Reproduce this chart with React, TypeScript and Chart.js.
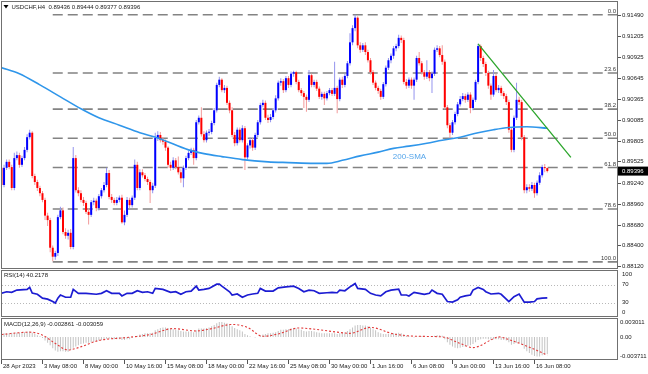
import React, { useEffect, useRef } from "react";
import { Chart, registerables } from "chart.js";

Chart.register(...registerables);

// ---------------- data ----------------
const firstOpen = 0.8944;
const closes = [
  0.8921, 0.8944, 0.8952, 0.8945, 0.8917, 0.8957, 0.8961, 0.8948, 0.8957, 0.8968,
  0.8985, 0.8991, 0.8933, 0.8925, 0.8917, 0.8910, 0.8901, 0.8880, 0.8874, 0.8837,
  0.8825, 0.8830, 0.8878, 0.8887, 0.8858, 0.8853, 0.8857, 0.8838, 0.8957, 0.8914,
  0.8910, 0.8901, 0.8897, 0.8885, 0.8881, 0.8898, 0.8900, 0.8890, 0.8906, 0.8914,
  0.8921, 0.8937, 0.8905, 0.8901, 0.8897, 0.8901, 0.8904, 0.8871, 0.8881, 0.8901,
  0.8894, 0.8904, 0.8948, 0.8917, 0.8938, 0.8934, 0.8929, 0.8925, 0.8914, 0.8920,
  0.8984, 0.8988, 0.8981, 0.8979, 0.8971, 0.8948, 0.8944, 0.8954, 0.8945, 0.8938,
  0.8930, 0.8944, 0.8957, 0.8964, 0.8968, 0.8957, 0.9005, 0.9011, 0.8989, 0.8981,
  0.8991, 0.8992, 0.9004, 0.9021, 0.9055, 0.9062, 0.9048, 0.9051, 0.9031, 0.9021,
  0.8988, 0.8977, 0.8995, 0.8981, 0.8997, 0.8958, 0.8974, 0.8981, 0.8971, 0.8988,
  0.9005, 0.9028, 0.9031, 0.9011, 0.9008, 0.9012, 0.9021, 0.9037, 0.9058, 0.9060,
  0.9048, 0.9064, 0.9055, 0.9070, 0.9072, 0.9059, 0.9048, 0.9044, 0.9039, 0.9035,
  0.9068, 0.9055, 0.9059, 0.9050, 0.9039, 0.9043, 0.9037, 0.9044, 0.9048, 0.9043,
  0.9051, 0.9036, 0.9062, 0.9055, 0.9067, 0.9084, 0.9112, 0.9131, 0.9145, 0.9108,
  0.9102, 0.9108, 0.9099, 0.9088, 0.9072, 0.9058, 0.9051, 0.9047, 0.9039, 0.9056,
  0.9078, 0.9088, 0.9094, 0.9104, 0.9107, 0.9118, 0.9115, 0.9059, 0.9054, 0.9062,
  0.9054, 0.9062, 0.9091, 0.9084, 0.9072, 0.9066, 0.9072, 0.9064, 0.9070, 0.9102,
  0.9104, 0.9095, 0.9086, 0.9025, 0.9001, 0.8991, 0.9005, 0.9016, 0.9029, 0.9036,
  0.9040, 0.9035, 0.9042, 0.9024, 0.9035, 0.9059, 0.9107, 0.9091, 0.9083, 0.9071,
  0.9054, 0.9042, 0.9067, 0.9048, 0.9051, 0.9044, 0.9040, 0.9032, 0.8995, 0.8968,
  0.9011, 0.9035, 0.9032, 0.8985, 0.8914, 0.8918, 0.8916, 0.8921, 0.8910, 0.8924,
  0.8934, 0.8945, 0.89436, 0.89396,
];
const highs = [
  0.8950, 0.8948, 0.8955, 0.8955, 0.8948, 0.8964, 0.8966, 0.8964, 0.8960, 0.8972,
  0.8989, 0.8995, 0.8993, 0.8936, 0.8928, 0.8920, 0.8913, 0.8904, 0.8884, 0.8877,
  0.8840, 0.8833, 0.8881, 0.8892, 0.8891, 0.8863, 0.8861, 0.8862, 0.8972, 0.8961,
  0.8918, 0.8914, 0.8905, 0.8900, 0.8890, 0.8901, 0.8904, 0.8903, 0.8909, 0.8917,
  0.8925, 0.8944, 0.8941, 0.8909, 0.8904, 0.8905, 0.8907, 0.8908, 0.8887, 0.8905,
  0.8904, 0.8907, 0.8955, 0.8952, 0.8942, 0.8942, 0.8937, 0.8932, 0.8928, 0.8924,
  0.8991, 0.8993, 0.8992, 0.8985, 0.8982, 0.8973, 0.8952, 0.8958, 0.8957, 0.8959,
  0.8942, 0.8947, 0.8960, 0.8967, 0.8971, 0.8971, 0.9008, 0.9014, 0.9025, 0.8993,
  0.8994, 0.8996, 0.9007, 0.9024, 0.9058, 0.9066, 0.9064, 0.9055, 0.9054, 0.9034,
  0.9025, 0.8992, 0.8998, 0.8998, 0.9001, 0.9000, 0.8977, 0.8985, 0.8984, 0.8991,
  0.9008, 0.9031, 0.9035, 0.9034, 0.9015, 0.9016, 0.9024, 0.9041, 0.9061, 0.9064,
  0.9063, 0.9067, 0.9067, 0.9073, 0.9074, 0.9074, 0.9062, 0.9051, 0.9047, 0.9042,
  0.9075, 0.9070, 0.9062, 0.9062, 0.9053, 0.9046, 0.9046, 0.9047, 0.9051, 0.9051,
  0.9086, 0.9054, 0.9065, 0.9066, 0.9070, 0.9087, 0.9124, 0.9135, 0.9149, 0.9147,
  0.9112, 0.9111, 0.9112, 0.9102, 0.9091, 0.9075, 0.9061, 0.9054, 0.9050, 0.9059,
  0.9081, 0.9091, 0.9097, 0.9107, 0.9110, 0.9122, 0.9121, 0.9118, 0.9063, 0.9065,
  0.9065, 0.9065, 0.9094, 0.9099, 0.9087, 0.9075, 0.9088, 0.9075, 0.9073, 0.9105,
  0.9108, 0.9107, 0.9108, 0.9089, 0.9028, 0.9004, 0.9008, 0.9019, 0.9032, 0.9040,
  0.9044, 0.9043, 0.9045, 0.9045, 0.9038, 0.9062, 0.9110, 0.9109, 0.9094, 0.9086,
  0.9074, 0.9057, 0.9075, 0.9070, 0.9055, 0.9054, 0.9047, 0.9043, 0.9035, 0.8998,
  0.9014, 0.9058, 0.9039, 0.9035, 0.8988, 0.8922, 0.8922, 0.8925, 0.8924, 0.8927,
  0.8938, 0.8948, 0.8949, 0.89444,
];
const lows = [
  0.8897, 0.8918, 0.8941, 0.8942, 0.8914, 0.8914, 0.8954, 0.8944, 0.8945, 0.8954,
  0.8965, 0.8982, 0.8930, 0.8921, 0.8913, 0.8906, 0.8898, 0.8874, 0.8866, 0.8831,
  0.8819, 0.8821, 0.8826, 0.8875, 0.8855, 0.8849, 0.8848, 0.8835, 0.8835, 0.8911,
  0.8906, 0.8898, 0.8893, 0.8882, 0.8868, 0.8878, 0.8894, 0.8886, 0.8887, 0.8903,
  0.8911, 0.8918, 0.8902, 0.8897, 0.8894, 0.8894, 0.8898, 0.8869, 0.8867, 0.8878,
  0.8890, 0.8891, 0.8901, 0.8914, 0.8914, 0.8931, 0.8926, 0.8921, 0.8897, 0.8910,
  0.8917, 0.8980, 0.8978, 0.8975, 0.8967, 0.8944, 0.8940, 0.8941, 0.8942, 0.8935,
  0.8924, 0.8918, 0.8941, 0.8954, 0.8961, 0.8948, 0.8954, 0.9002, 0.8986, 0.8978,
  0.8978, 0.8987, 0.8989, 0.9001, 0.9018, 0.9052, 0.9045, 0.9044, 0.9028, 0.9017,
  0.8985, 0.8973, 0.8974, 0.8978, 0.8978, 0.8941, 0.8955, 0.8970, 0.8967, 0.8968,
  0.8985, 0.9002, 0.9025, 0.9008, 0.9004, 0.9005, 0.9009, 0.9018, 0.9034, 0.9054,
  0.9044, 0.9045, 0.9051, 0.9052, 0.9066, 0.9056, 0.9045, 0.9040, 0.9024, 0.9019,
  0.9032, 0.9052, 0.9052, 0.9047, 0.9036, 0.9035, 0.9028, 0.9034, 0.9041, 0.9040,
  0.9040, 0.9017, 0.9033, 0.9051, 0.9052, 0.9064, 0.9081, 0.9108, 0.9127, 0.9104,
  0.9098, 0.9099, 0.9095, 0.9085, 0.9069, 0.9055, 0.9048, 0.9043, 0.9035, 0.9036,
  0.9053, 0.9075, 0.9084, 0.9090, 0.9100, 0.9104, 0.9111, 0.9056, 0.9050, 0.9051,
  0.9050, 0.9035, 0.9059, 0.9081, 0.9069, 0.9062, 0.9063, 0.9060, 0.9044, 0.9067,
  0.9099, 0.9092, 0.9082, 0.9022, 0.8997, 0.8984, 0.8988, 0.9002, 0.9013, 0.9026,
  0.9033, 0.9031, 0.9032, 0.9017, 0.9021, 0.9032, 0.9056, 0.9087, 0.9079, 0.9067,
  0.9050, 0.9035, 0.9039, 0.9045, 0.9044, 0.9040, 0.9036, 0.9028, 0.8991, 0.8965,
  0.8965, 0.9008, 0.9028, 0.8981, 0.8910, 0.8910, 0.8912, 0.8913, 0.8904, 0.8907,
  0.8921, 0.8931, 0.8938, 0.89377,
];

const smaIdx = [0, 7, 15, 23, 31, 38, 46, 54, 61, 73, 79, 86, 94, 104, 112, 122, 127, 133, 140, 147, 153, 159, 166, 172, 179, 186, 192, 198, 205, 213];
const smaVals = [0.9078, 0.9070, 0.9055, 0.9039, 0.9023, 0.9011, 0.9001, 0.8991, 0.8984, 0.8968, 0.8963, 0.8959, 0.8955, 0.8952, 0.8951, 0.8950, 0.8950, 0.8954, 0.8960, 0.8965, 0.8970, 0.8973, 0.8977, 0.8981, 0.8985, 0.8991, 0.8995, 0.8998, 0.8999, 0.8997];
const smaLabel = "200-SMA";
const smaLabelIdx = 152.7;
const smaLabelPrice = 0.8959;

const trendIdx = [186, 222.2];
const trendVals = [0.9110, 0.8958];

const fibHigh = 0.9149;
const fibLow = 0.8818;
const fibStartIdx = 20;
const fibRatios = [0, 23.6, 38.2, 50, 61.8, 78.6, 100];
const fibLabels = ["0.0", "23.6", "38.2", "50.0", "61.8", "78.6", "100.0"];

const priceTicks = [0.9149, 0.91205, 0.90925, 0.90645, 0.90365, 0.90085, 0.89805, 0.89525, 0.8924, 0.8896, 0.8868, 0.884, 0.8812];
const priceTickLabels = ["0.91490", "0.91205", "0.90925", "0.90645", "0.90365", "0.90085", "0.89805", "0.89525", "0.89240", "0.88960", "0.88680", "0.88400", "0.88120"];
const lastPrice = 0.89396;
const lastPriceLabel = "0.89396";
const mainTitle = "USDCHF,H4  0.89436 0.89444 0.89377 0.89396";

const rsiIdx = [0, 2, 4, 6, 10, 11, 12, 14, 16, 18, 20, 21, 22, 23, 25, 27, 28, 30, 33, 37, 39, 41, 43, 46, 47, 49, 51, 53, 55, 57, 59, 60, 63, 66, 68, 70, 72, 74, 76, 77, 79, 81, 84, 85, 86, 89, 90, 92, 94, 96, 98, 100, 101, 103, 106, 108, 111, 114, 116, 118, 120, 122, 124, 127, 129, 131, 132, 134, 136, 137, 138, 139, 142, 144, 146, 148, 150, 152, 155, 156, 158, 159, 161, 163, 165, 167, 168, 170, 172, 174, 176, 178, 179, 181, 183, 184, 186, 188, 189, 191, 194, 195, 198, 200, 202, 204, 206, 208, 209, 211, 213];
const rsiVals = [50.4, 53.9, 52.6, 57.6, 59.1, 63.5, 51.1, 48.3, 39.6, 37.4, 32.2, 28.7, 39.6, 46.7, 41.7, 41.7, 59.1, 50.4, 50.4, 48.3, 50.4, 56.1, 50.4, 50.4, 44.6, 50.4, 50.4, 56.1, 52.6, 53.9, 50.4, 61.3, 59.1, 52.6, 53.9, 48.3, 53.9, 55.4, 66.3, 57.6, 59.1, 61.3, 70.7, 70.7, 66.3, 53.9, 46.7, 48.9, 41.7, 46.7, 48.9, 50.4, 61.3, 55.4, 55.4, 62.6, 64.8, 66.3, 61.3, 53.9, 57.6, 56.1, 50.4, 51.7, 52.6, 51.7, 57.6, 56.1, 64.8, 68.5, 72.2, 61.3, 59.1, 50.4, 46.7, 44.6, 53.9, 57.6, 59.8, 46.7, 46.7, 44.6, 52.6, 50.4, 48.3, 50.4, 57.6, 50.4, 48.3, 32.2, 30.9, 35.9, 41.7, 44.6, 46.7, 57.6, 63.5, 59.1, 53.9, 48.9, 50.4, 48.3, 32.2, 43.0, 48.9, 30.9, 30.9, 32.2, 38.0, 39.6, 40.2178];
const rsiLevels = [70, 30];
const rsiTicks = [100, 70, 30, 0];
const rsiTickLabels = ["100", "70", "30", "0"];
const rsiTitle = "RSI(14) 40.2178";

const macdHist = [
  0.0005, 0.0006, 0.0006, 0.0006, 0.0007, 0.0007, 0.0007, 0.0007, 0.0008, 0.0008, 0.0009, 0.0009, 0.0007,
  0.0005, 0.0003, 0.0001, -0.0002,
  -0.0006, -0.0010, -0.0014, -0.0019, -0.0023, -0.0025, -0.0024, -0.0024, -0.0025,
  -0.0025, -0.0022, -0.0018, -0.0016, -0.0014, -0.0012, -0.0011,
  -0.0010, -0.0010, -0.0009, -0.0008, -0.0007, -0.0006, -0.0005, -0.0004, -0.0003, -0.0003, -0.0003, -0.0004, -0.0004, -0.0004, -0.0005, -0.0005, -0.0004, -0.0004,
  -0.0002, 0.0000, 0.0002, 0.0004, 0.0005, 0.0006, 0.0006, 0.0006, 0.0007, 0.0011,
  0.0013, 0.0015, 0.0016, 0.0016, 0.0015, 0.0014, 0.0013, 0.0012, 0.0011, 0.0010,
  0.0009, 0.0009, 0.0009, 0.0009, 0.0008, 0.0011, 0.0014,
  0.0014, 0.0014, 0.0015, 0.0016, 0.0018, 0.0020, 0.0023, 0.0025, 0.0025, 0.0024, 0.0023, 0.0021, 0.0018,
  0.0015, 0.0013, 0.0011, 0.0009, 0.0005, 0.0003, 0.0001, 0.0000, -0.0001,
  0.0000, 0.0002, 0.0004, 0.0005, 0.0006, 0.0006,
  0.0007, 0.0008, 0.0010, 0.0012, 0.0012, 0.0013, 0.0013, 0.0014, 0.0015, 0.0014, 0.0013, 0.0012, 0.0010,
  0.0009, 0.0010, 0.0010, 0.0009, 0.0008, 0.0007, 0.0006, 0.0006, 0.0006, 0.0006, 0.0006, 0.0006,
  0.0005, 0.0006, 0.0007, 0.0008, 0.0010, 0.0013, 0.0016,
  0.0019, 0.0020, 0.0020, 0.0019, 0.0019, 0.0018, 0.0016, 0.0013, 0.0011,
  0.0008, 0.0006, 0.0005, 0.0005, 0.0005, 0.0005, 0.0006, 0.0006, 0.0007,
  0.0006, 0.0004, 0.0002, 0.0001, 0.0000, -0.0001, 0.0001, 0.0001, 0.0001, 0.0001, 0.0000, 0.0000, 0.0001, 0.0002, 0.0003, 0.0003, 0.0002,
  -0.0004, -0.0009, -0.0013, -0.0016, -0.0018, -0.0019, -0.0018, -0.0017, -0.0016, -0.0015,
  -0.0014, -0.0012, -0.0009, -0.0005, -0.0004, -0.0003, -0.0003, -0.0004, -0.0005, -0.0004,
  -0.0004, -0.0004, -0.0005, -0.0005, -0.0006, -0.0009, -0.0013, -0.0012, -0.0010, -0.0010, -0.0013,
  -0.0020, -0.0024, -0.0027, -0.0030, -0.0032, -0.0033, -0.0033, -0.0031, -0.0030, -0.002861,
];
const sigIdx = [0, 11, 16, 21, 26, 30, 38, 49, 58, 67, 76, 82, 90, 96, 102, 108, 116, 124, 131, 136, 144, 153, 163, 172, 179, 184, 192, 194, 199, 207, 213];
const sigVals = [0.0004, 0.0008, 0.0003, -0.0011, -0.0022, -0.0018, -0.0006, -0.0001, 0.0004, 0.0014, 0.0010, 0.0014, 0.0021, 0.0016, 0.0001, 0.0005, 0.0015, 0.0012, 0.0008, 0.0006, 0.0016, 0.0005, 0.0001, 0.0, -0.0011, -0.0018, -0.0003, 0.0, -0.0006, -0.0019, -0.003059];
const macdTicks = [0.003011, 0, -0.003711];
const macdTickLabels = ["0.003011", "0.00", "-0.003711"];
const macdTitle = "MACD(12,26,9) -0.002861 -0.003059";

const xTickIdx = [0, 16, 32, 48, 64, 80, 96, 112, 128, 144, 160, 176, 192, 208];
const xTickLabels = ["28 Apr 2023", "3 May 08:00", "8 May 00:00", "10 May 16:00", "15 May 08:00", "18 May 00:00", "22 May 16:00", "25 May 08:00", "30 May 00:00", "1 Jun 16:00", "6 Jun 08:00", "9 Jun 00:00", "13 Jun 16:00", "16 Jun 08:00"];

// ---------------- layout / style ----------------
const X_MIN = 0.2;
const X_MAX = 240.2;
const Y_MIN = 0.880986;
const Y_MAX = 0.9166;
const FF = '"Liberation Sans", Arial, sans-serif';
const SMALL = `6px ${FF}`;
const FRAME = "#707070";
const TEXT = "#1a1a1a";
const BULL = "#0000ff";
const BEAR = "#ff0000";
const BULL_WICK = "#9494ee";
const BEAR_WICK = "#f29a9a";
const PAD = { left: 2, right: 31 };

const opens = closes.map((c, i) => (i === 0 ? firstOpen : closes[i - 1]));

function drawFrame(ctx: any, a: any) {
  ctx.strokeStyle = FRAME;
  ctx.lineWidth = 1;
  ctx.strokeRect(a.left - 0.5, a.top - 0.5, a.right - a.left + 1, a.bottom - a.top + 1);
}

const mainDeco = {
  id: "mainDeco",
  afterDraw(chart: any) {
    const { ctx, chartArea: a, scales } = chart;
    const ys = scales.y;
    const xs = scales.x;
    ctx.save();
    drawFrame(ctx, a);
    // price axis
    ctx.font = SMALL;
    ctx.textAlign = "left";
    ctx.textBaseline = "middle";
    priceTicks.forEach((v, k) => {
      const py = Math.round(ys.getPixelForValue(v)) + 0.5;
      ctx.strokeStyle = "#555";
      ctx.beginPath();
      ctx.moveTo(a.right + 1, py);
      ctx.lineTo(a.right + 4, py);
      ctx.stroke();
      ctx.fillStyle = TEXT;
      ctx.fillText(priceTickLabels[k], a.right + 5, py);
    });
    // fib labels
    ctx.textAlign = "right";
    ctx.textBaseline = "bottom";
    ctx.fillStyle = "#3a3a3a";
    fibRatios.forEach((r, k) => {
      const lvl = fibHigh - (r / 100) * (fibHigh - fibLow);
      const py = ys.getPixelForValue(lvl);
      ctx.fillText(fibLabels[k], a.right - 1, py - 0.5);
    });
    // SMA label
    ctx.font = `8px ${FF}`;
    ctx.textAlign = "left";
    ctx.textBaseline = "middle";
    ctx.fillStyle = "#55a5ea";
    ctx.fillText(smaLabel, xs.getPixelForValue(smaLabelIdx), ys.getPixelForValue(smaLabelPrice));
    // last price box
    const lp = ys.getPixelForValue(lastPrice);
    ctx.fillStyle = "#000";
    ctx.fillRect(a.right + 1, lp - 4.5, 31, 9);
    ctx.font = SMALL;
    ctx.fillStyle = "#fff";
    ctx.fillText(lastPriceLabel, a.right + 5, lp);
    // title
    ctx.fillStyle = "#000";
    ctx.beginPath();
    ctx.moveTo(3.5, 5);
    ctx.lineTo(8.5, 5);
    ctx.lineTo(6, 8.5);
    ctx.closePath();
    ctx.fill();
    ctx.fillStyle = TEXT;
    ctx.fillText(mainTitle, 11.5, 7);
    ctx.restore();
  },
};

const rsiDeco = {
  id: "rsiDeco",
  beforeDatasetsDraw(chart: any) {
    const { ctx, chartArea: a, scales } = chart;
    ctx.save();
    ctx.strokeStyle = "#b8b8b8";
    ctx.lineWidth = 1;
    ctx.setLineDash([1, 2]);
    rsiLevels.forEach((v) => {
      const py = Math.round(scales.y.getPixelForValue(v)) + 0.5;
      ctx.beginPath();
      ctx.moveTo(a.left, py);
      ctx.lineTo(a.right, py);
      ctx.stroke();
    });
    ctx.restore();
  },
  afterDraw(chart: any) {
    const { ctx, chartArea: a, scales } = chart;
    ctx.save();
    drawFrame(ctx, a);
    ctx.font = SMALL;
    ctx.fillStyle = TEXT;
    ctx.textAlign = "left";
    ctx.textBaseline = "middle";
    rsiTicks.forEach((v, k) => {
      let py = scales.y.getPixelForValue(v);
      py = Math.min(Math.max(py, a.top + 3.5), a.bottom - 4);
      ctx.fillText(rsiTickLabels[k], a.right + 5, py);
    });
    ctx.fillText(rsiTitle, 4, a.top + 4);
    ctx.restore();
  },
};

const macdDeco = {
  id: "macdDeco",
  afterDraw(chart: any) {
    const { ctx, chartArea: a, scales } = chart;
    ctx.save();
    drawFrame(ctx, a);
    ctx.font = SMALL;
    ctx.fillStyle = TEXT;
    ctx.textAlign = "left";
    ctx.textBaseline = "middle";
    macdTicks.forEach((v, k) => {
      let py = scales.y.getPixelForValue(v);
      py = Math.min(Math.max(py, a.top + 3), a.bottom - 3) + 0.5;
      ctx.fillText(macdTickLabels[k], a.right + 3, py);
    });
    ctx.fillText(macdTitle, 4, a.top + 5);
    // time axis
    ctx.strokeStyle = "#555";
    xTickIdx.forEach((v, k) => {
      const px = Math.round(scales.x.getPixelForValue(v)) + 0.5;
      ctx.beginPath();
      ctx.moveTo(px, a.bottom + 1);
      ctx.lineTo(px, a.bottom + 5);
      ctx.stroke();
      ctx.fillText(xTickLabels[k], Math.max(px + 1.5, 2), a.bottom + 7.8);
    });
    ctx.restore();
  },
};

function baseOptions(yMin: number, yMax: number, top: number, bottom: number) {
  return {
    animation: false,
    responsive: false,
    maintainAspectRatio: false,
    events: [],
    layout: { padding: { left: PAD.left, right: PAD.right, top, bottom } },
    scales: {
      x: { type: "linear", min: X_MIN, max: X_MAX, display: false, offset: false },
      y: { type: "linear", min: yMin, max: yMax, display: false },
    },
    plugins: { legend: { display: false }, tooltip: { enabled: false } },
  };
}

export default function App() {
  const mainRef = useRef<HTMLCanvasElement>(null);
  const rsiRef = useRef<HTMLCanvasElement>(null);
  const macdRef = useRef<HTMLCanvasElement>(null);

  useEffect(() => {
    const charts: Chart[] = [];

    const fibSets = fibRatios.map((r) => {
      const lvl = fibHigh - (r / 100) * (fibHigh - fibLow);
      return {
        type: "line",
        data: [
          { x: fibStartIdx, y: lvl },
          { x: X_MAX, y: lvl },
        ],
        borderColor: "#838383",
        borderWidth: 1.6,
        borderDash: [10, 5],
        pointRadius: 0,
        order: 10,
      };
    });

    const mainCfg: any = {
      type: "bar",
      data: {
        datasets: [
          ...fibSets,
          {
            type: "bar",
            data: closes.map((c, i) => ({ x: i, y: [lows[i], highs[i]] })),
            backgroundColor: closes.map((c, i) => (c >= opens[i] ? BULL_WICK : BEAR_WICK)),
            barThickness: 1,
            grouped: false,
            inflateAmount: 0,
            borderWidth: 0,
            order: 6,
          },
          {
            type: "bar",
            data: closes.map((c, i) => ({ x: i, y: [opens[i], c] })),
            backgroundColor: closes.map((c, i) => (c >= opens[i] ? BULL : BEAR)),
            barThickness: 2,
            minBarLength: 1,
            grouped: false,
            inflateAmount: 0,
            borderWidth: 0,
            order: 5,
          },
          {
            type: "line",
            data: smaIdx.map((x, k) => ({ x, y: smaVals[k] })),
            borderColor: "#2f96ea",
            borderWidth: 1.6,
            pointRadius: 0,
            cubicInterpolationMode: "monotone",
            order: 2,
          },
          {
            type: "line",
            data: trendIdx.map((x, k) => ({ x, y: trendVals[k] })),
            borderColor: "#2aa52a",
            borderWidth: 1.3,
            pointRadius: 0,
            order: 1,
          },
        ],
      },
      options: baseOptions(Y_MIN, Y_MAX, 2, 2),
      plugins: [mainDeco],
    };

    const rsiCfg: any = {
      type: "line",
      data: {
        datasets: [
          {
            data: rsiIdx.map((x, k) => ({ x, y: rsiVals[k] })),
            borderColor: "#1c1cd2",
            borderWidth: 1.7,
            pointRadius: 0,
            tension: 0,
          },
        ],
      },
      options: baseOptions(0, 100, 2, 2),
      plugins: [rsiDeco],
    };

    const macdCfg: any = {
      type: "bar",
      data: {
        datasets: [
          {
            type: "line",
            data: sigIdx.map((x, k) => ({ x, y: sigVals[k] })),
            borderColor: "#e23a3a",
            borderWidth: 1.1,
            borderDash: [2, 2],
            pointRadius: 0,
            cubicInterpolationMode: "monotone",
            order: 1,
          },
          {
            type: "bar",
            data: macdHist.map((v, i) => ({ x: i, y: v })),
            backgroundColor: "#c3c3c3",
            barThickness: 1,
            grouped: false,
            inflateAmount: 0,
            borderWidth: 0,
            order: 5,
          },
        ],
      },
      options: baseOptions(-0.003711, 0.003011, 1, 15),
      plugins: [macdDeco],
    };

    charts.push(new Chart(mainRef.current as HTMLCanvasElement, mainCfg));
    charts.push(new Chart(rsiRef.current as HTMLCanvasElement, rsiCfg));
    charts.push(new Chart(macdRef.current as HTMLCanvasElement, macdCfg));
    return () => charts.forEach((c) => c.destroy());
  }, []);

  return (
    <div style={{ position: "fixed", left: 0, top: 0, width: 648, height: 374, background: "#fff", overflow: "hidden" }}>
      <canvas ref={mainRef} width={648} height={270} style={{ position: "absolute", left: 0, top: 0, width: 648, height: 270 }} />
      <canvas ref={rsiRef} width={648} height={49} style={{ position: "absolute", left: 0, top: 269, width: 648, height: 49 }} />
      <canvas ref={macdRef} width={648} height={56} style={{ position: "absolute", left: 0, top: 318, width: 648, height: 56 }} />
    </div>
  );
}
